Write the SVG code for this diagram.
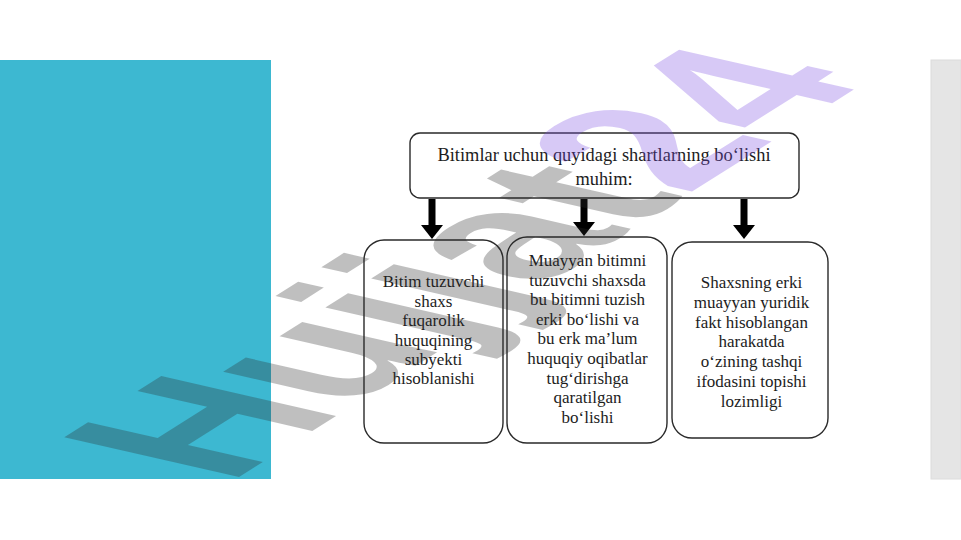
<svg xmlns="http://www.w3.org/2000/svg" width="961" height="540" viewBox="0 0 961 540">
<style>
.box{fill:#ffffff;stroke:#2a2a2a;stroke-width:1.4}
.t{font-family:"Liberation Serif","Times New Roman",serif;fill:#1c1c1c;text-anchor:middle}
.tt{font-size:18.4px}
.bt{font-size:17px}
.arr{stroke:#000;stroke-width:7;fill:none}
.wm{font-family:"Liberation Sans",Arial,sans-serif;font-weight:bold;font-size:100px}
</style>
<defs>
<marker id="ah" markerUnits="userSpaceOnUse" markerWidth="14" markerHeight="22" viewBox="0 0 14 22" refX="1" refY="11" orient="auto">
<path d="M0,0 L14,11 L0,22 z" fill="#000"/>
</marker>
</defs>
<rect x="0" y="0" width="961" height="540" fill="#ffffff"/>
<rect id="panel-left" x="0" y="60" width="271" height="419" fill="#3db8d1"/>
<rect id="panel-right" x="931" y="60" width="30" height="419" fill="#e5e5e5" stroke="#dcdcdc" stroke-width="1"/>

<g id="connectors">
<line class="arr" x1="432" y1="199" x2="432" y2="226" marker-end="url(#ah)"/>
<line class="arr" x1="584" y1="199" x2="584" y2="223" marker-end="url(#ah)"/>
<line class="arr" x1="744" y1="199" x2="744" y2="226" marker-end="url(#ah)"/>
</g>

<g id="title">
<rect class="box" x="410" y="133" width="389" height="65" rx="10"/>
<text class="t tt" x="604" y="160.5">Bitimlar uchun quyidagi shartlarning boʻlishi</text>
<text class="t tt" x="604" y="185">muhim:</text>
</g>

<g id="box1">
<rect class="box" x="364" y="240" width="139" height="203" rx="20"/>
<text class="t bt" x="433.5" y="287.3">Bitim tuzuvchi</text>
<text class="t bt" x="433.5" y="306.7">shaxs</text>
<text class="t bt" x="433.5" y="326.1">fuqarolik</text>
<text class="t bt" x="433.5" y="345.5">huquqining</text>
<text class="t bt" x="433.5" y="364.9">subyekti</text>
<text class="t bt" x="433.5" y="384.3">hisoblanishi</text>
</g>

<g id="box2">
<rect class="box" x="507" y="237" width="160" height="206" rx="20"/>
<text class="t bt" x="587.5" y="266">Muayyan bitimni</text>
<text class="t bt" x="587.5" y="285.6">tuzuvchi shaxsda</text>
<text class="t bt" x="587.5" y="305.2">bu bitimni tuzish</text>
<text class="t bt" x="587.5" y="324.8">erki boʻlishi va</text>
<text class="t bt" x="587.5" y="344.4">bu erk maʼlum</text>
<text class="t bt" x="587.5" y="364">huquqiy oqibatlar</text>
<text class="t bt" x="587.5" y="383.6">tugʻdirishga</text>
<text class="t bt" x="587.5" y="403.2">qaratilgan</text>
<text class="t bt" x="587.5" y="422.8">boʻlishi</text>
</g>

<g id="box3">
<rect class="box" x="672" y="242" width="156" height="196" rx="20"/>
<text class="t bt" x="751.5" y="288">Shaxsning erki</text>
<text class="t bt" x="751.5" y="307.8">muayyan yuridik</text>
<text class="t bt" x="751.5" y="327.6">fakt hisoblangan</text>
<text class="t bt" x="751.5" y="347.4">harakatda</text>
<text class="t bt" x="751.5" y="367.2">oʻzining tashqi</text>
<text class="t bt" x="751.5" y="387">ifodasini topishi</text>
<text class="t bt" x="751.5" y="406.8">lozimligi</text>
</g>

<g id="watermark">
<text class="wm" transform="matrix(1.65,-1.04,2.54,0.58,228,484)"><tspan fill="#2b2b2b" fill-opacity="0.3">Hujjat</tspan><tspan fill="#7a4de0" fill-opacity="0.3">24</tspan></text>
</g>
</svg>
